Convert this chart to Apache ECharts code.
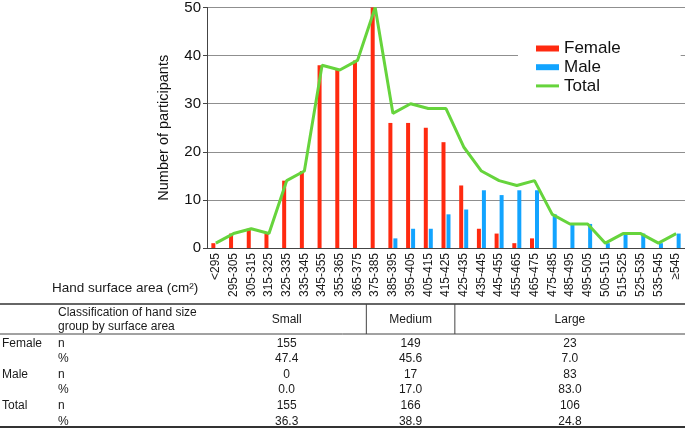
<!DOCTYPE html>
<html>
<head>
<meta charset="utf-8">
<script src="https://cdn.jsdelivr.net/npm/echarts@6/dist/echarts.min.js"></script>
<style>
html,body{margin:0;padding:0;background:#fff;}
#chart{width:685px;height:430px;}
</style>
</head>
<body>
<div id="chart"></div>
<script>
// ---- data ----
const categories = ['<295','295-305','305-315','315-325','325-335','335-345','345-355','355-365','365-375','375-385','385-395','395-405','405-415','415-425','425-435','435-445','445-455','455-465','465-475','475-485','485-495','495-505','505-515','515-525','525-535','535-545','\u2265545'];
const female = [1,3,4,3,14,16,38,37,39,50,26,26,25,22,13,4,3,1,2,0,0,0,0,0,0,0,0];
const male   = [0,0,0,0,0,0,0,0,0,0,2,4,4,7,8,12,11,12,12,7,5,5,1,3,3,1,3];
const total  = [1,3,4,3,14,16,38,37,39,50,28,30,29,29,21,16,14,13,14,7,5,5,1,3,3,1,3];

// table
const groupNames = ['Small','Medium','Large'];
const groupStartIdx = [0, 9, 14];   // first category index of each group
const femaleN   = ['155','149','23'];
const femalePct = ['47.4','45.6','7.0'];
const maleN     = ['0','17','83'];
const malePct   = ['0.0','17.0','83.0'];
const totalN    = ['155','166','106'];
const totalPct  = ['36.3','38.9','24.8'];
const rowLabels = ['Female','','Male','','Total',''];
const rowSub    = ['n','%','n','%','n','%'];

const FONT = '"Liberation Sans", Arial, Helvetica, sans-serif';
const chart = echarts.init(document.getElementById('chart'), null, {renderer:'canvas'});

const option = {
  animation: false,
  backgroundColor: '#fff',
  textStyle: { fontFamily: FONT },
  grid: { left: 207, right: 0, top: 5, bottom: 182 },
  legend: {
    orient: 'vertical',
    left: 518, top: 32,
    padding: [8, 60, 4, 18],
    backgroundColor: '#fff',
    itemWidth: 23, itemHeight: 6, itemGap: 1.7,
    textStyle: { fontSize: 17, color: '#111', lineHeight: 17, fontFamily: FONT },
    data: [
      {name:'Female', icon:'rect'},
      {name:'Male', icon:'rect'},
      {name:'Total', icon:'path://M0,0L0,0M0,1.5L23,1.5L23,4.5L0,4.5ZM23,6L23,6'}
    ]
  },
  xAxis: {
    type: 'category',
    data: categories,
    axisLine: { lineStyle: { color: '#444', width: 1 } },
    axisTick: { show: false },
    axisLabel: { rotate: 90, interval: 0, fontSize: 12, color: '#1a1a1a', margin: 5, fontFamily: FONT }
  },
  yAxis: {
    type: 'value', min: 0, max: 50, interval: 10,
    name: 'Number of participants',
    nameLocation: 'middle', nameGap: 36,
    nameTextStyle: { fontSize: 14.5, color: '#111', fontFamily: FONT },
    axisLine: { show: true, lineStyle: { color: '#444' } },
    axisTick: { show: true, length: 4, lineStyle: { color: '#444' } },
    axisLabel: { fontSize: 15, color: '#111', margin: 6, fontFamily: FONT },
    splitLine: { lineStyle: { color: '#8f8f8f', width: 1 } }
  },
  series: [
    { name: 'Female', type: 'bar', data: female, barWidth: 4, barGap: '25%',
      itemStyle: { color: '#ff2a10' } },
    { name: 'Male', type: 'bar', data: male, barWidth: 4,
      itemStyle: { color: '#12a4ff' } },
    { name: 'Total', type: 'line', data: total, symbol: 'none', showSymbol: false, z: 5,
      itemStyle: { color: '#66d43c' },
      lineStyle: { color: '#66d43c', width: 3 } }
  ]
};
chart.setOption(option);

// ---- table below chart ----
const gridLeft = 207, gridRight = 685;
function center(i){ return chart.convertToPixel({xAxisIndex:0}, i); }
function boundary(i){
  if (i <= 0) return gridLeft;
  if (i >= categories.length) return gridRight;
  return (center(i-1) + center(i)) / 2;
}
const bounds = groupStartIdx.map(boundary).concat([gridRight]);
const colCenters = groupNames.map((g,k) => (bounds[k] + bounds[k+1]) / 2);

const txtColor = '#1a1a1a';
const g = [];
function text(str, x, y, align, size){
  g.push({ type:'text', x:x, y:y, silent:true,
    style:{ text:str, fill:txtColor, font: (size||12) + 'px ' + FONT,
            textAlign: align||'center', textVerticalAlign:'middle' } });
}
function line(x1,y1,x2,y2,w,c){
  g.push({ type:'line', silent:true, shape:{x1:x1,y1:y1,x2:x2,y2:y2},
    style:{ stroke:c||'#333', lineWidth:w||1 } });
}

text('Hand surface area (cm\u00b2)', 52, 288, 'left', 13.5);

const topY = 304, headY = 334, botY = 427;
line(0, topY, 685, topY, 1.5, '#333');
line(0, headY, 685, headY, 1, '#444');
line(0, botY, 685, botY, 2, '#333');
line(bounds[1], topY, bounds[1], headY, 1, '#444');
line(bounds[2], topY, bounds[2], headY, 1, '#444');

text('Classification of hand size', 58, 313, 'left', 12);
text('group by surface area', 58, 327, 'left', 12);
groupNames.forEach((n,k) => text(n, colCenters[k], 320, 'center', 12));

const rowVals = [femaleN, femalePct, maleN, malePct, totalN, totalPct];
const rowY0 = 343.3, rowStep = 15.6;
rowVals.forEach((vals, r) => {
  const y = rowY0 + r * rowStep;
  if (rowLabels[r]) text(rowLabels[r], 2, y, 'left', 12);
  text(rowSub[r], 58, y, 'left', 12);
  vals.forEach((v,k) => text(v, colCenters[k], y, 'center', 12));
});

chart.setOption({ graphic: { elements: g } });
</script>
</body>
</html>
